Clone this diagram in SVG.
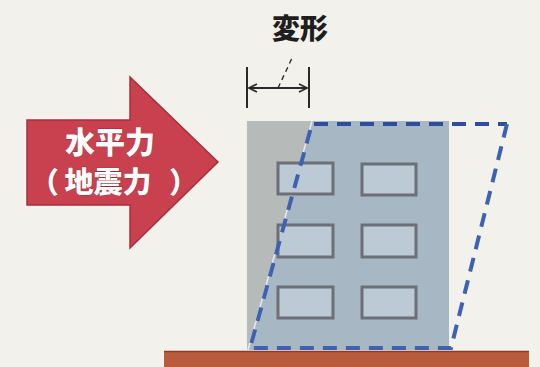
<svg xmlns="http://www.w3.org/2000/svg" width="540" height="367" viewBox="0 0 540 367">
  <style>
    .jp { font-family: "Noto Sans CJK JP", "Noto Sans CJK SC", sans-serif; font-weight: 900; text-spacing-trim: space-all; }
    .force-txt { fill: #ffffff; stroke: #9a2b36; stroke-width: 0.8; paint-order: stroke; font-size: 29px; }
    .win { fill: #bccad6; stroke: #6c7076; stroke-width: 3; }
    .dash { fill: none; stroke: #2f4d9a; stroke-width: 4; stroke-dasharray: 14 9; }
    .dim { fill: none; stroke: #2a2a2a; stroke-width: 2; }
  </style>
  <defs>
    <marker id="chev" viewBox="0 0 10 10" refX="9" refY="5" markerWidth="10" markerHeight="10" markerUnits="userSpaceOnUse" orient="auto-start-reverse">
      <path d="M1,1 L9,5 L1,9" fill="none" stroke="#2a2a2a" stroke-width="1.6"/>
    </marker>
  </defs>

  <!-- paper -->
  <rect width="540" height="367" fill="#f3f1ec"/>

  <!-- ground -->
  <g id="ground">
    <rect x="164" y="351" width="365" height="16" fill="#b95c3d"/>
    <line x1="164" y1="351.5" x2="529" y2="351.5" stroke="#8c3b27" stroke-width="1.5"/>
  </g>

  <!-- building at rest -->
  <g id="building">
    <rect x="247" y="121" width="202" height="229" fill="#b6bbba"/>
    <polygon points="312,121 449,121 449,350 248,350" fill="#a7b7c3"/>
    <line x1="312" y1="121" x2="248" y2="350" stroke="#e6eaee" stroke-width="1.5"/>
    <rect class="win" x="278" y="163" width="55" height="31"/>
    <rect class="win" x="362" y="164" width="54" height="31"/>
    <rect class="win" x="278" y="225" width="55" height="32"/>
    <rect class="win" x="362" y="225" width="54" height="32"/>
    <rect class="win" x="278" y="287" width="55" height="31"/>
    <rect class="win" x="362" y="287" width="54" height="31"/>
  </g>

  <!-- deformed outline -->
  <g id="deformed">
    <polyline class="dash" points="314,124 507,124"/>
    <polyline class="dash" style="stroke:#3d63b0" points="507,124 451,348 250,348 312,124"/>
  </g>

  <!-- horizontal force arrow -->
  <g id="force">
    <polygon points="27,120 130,120 130,77 218,162 130,248 130,205 27,205" fill="#c9414f" stroke="#a52f3b" stroke-width="1.5"/>
    <text class="jp force-txt" x="110" y="153" text-anchor="middle" style="font-size:30px">水平力</text>
    <text class="jp force-txt" x="108" y="193" text-anchor="middle">地震力</text>
    <text class="jp force-txt" x="30" y="193">（</text>
    <text class="jp force-txt" x="169" y="193">）</text>
  </g>

  <!-- deformation dimension -->
  <g id="connectors">
    <line class="dim" x1="247" y1="67" x2="247" y2="108"/>
    <line class="dim" x1="309" y1="67" x2="309" y2="108"/>
    <line class="dim" x1="249" y1="88" x2="307" y2="88" marker-start="url(#chev)" marker-end="url(#chev)"/>
    <line x1="278" y1="88" x2="293" y2="56" stroke="#2a2a2a" stroke-width="1.4" stroke-dasharray="5 4"/>
  </g>

  <g id="label">
    <text class="jp" x="300" y="39" font-size="28" text-anchor="middle" fill="#1e1e1e">変形</text>
  </g>
</svg>
